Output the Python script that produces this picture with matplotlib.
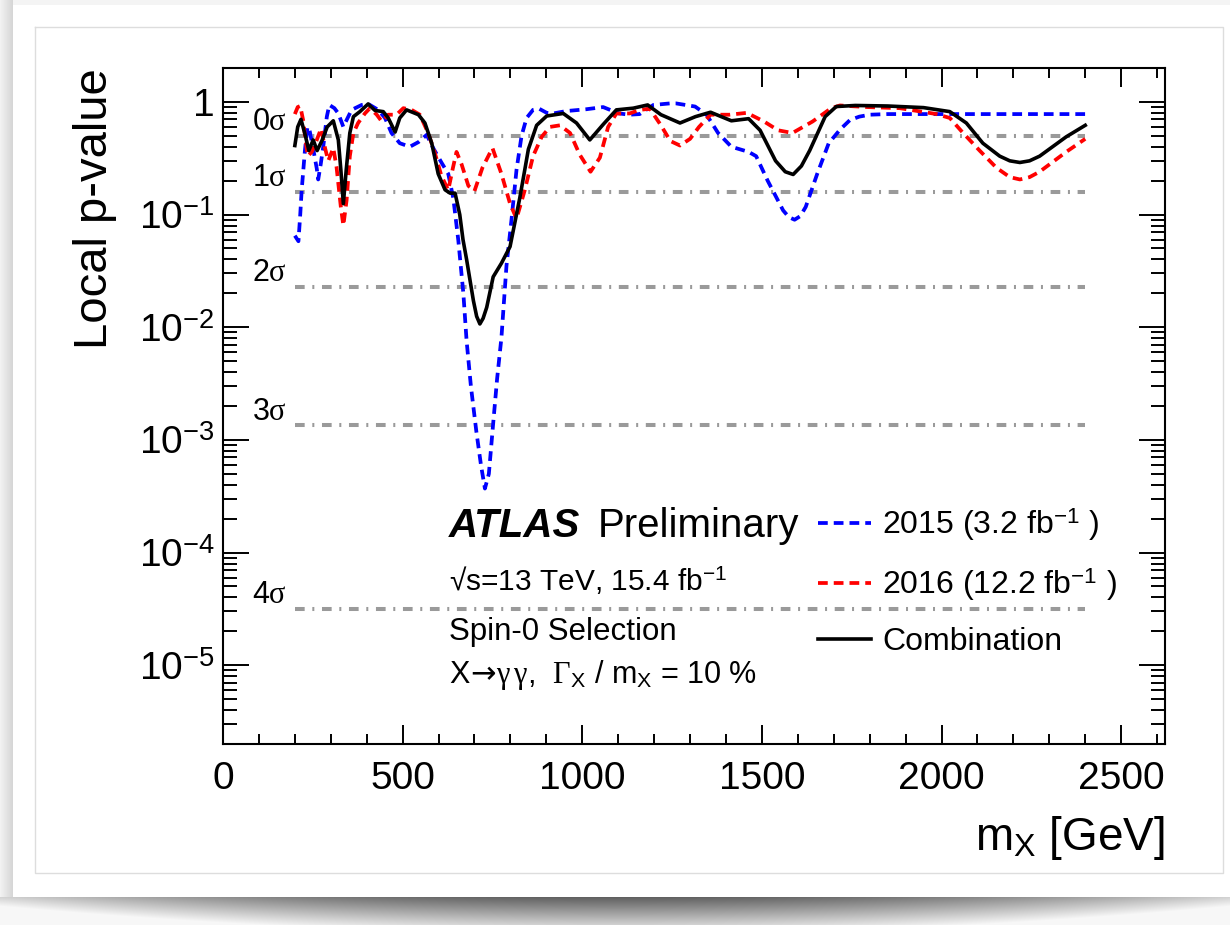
import numpy as np
import matplotlib
matplotlib.use("Agg")
import matplotlib.pyplot as plt
from matplotlib.ticker import FixedLocator, FixedFormatter, LogLocator, NullFormatter, MultipleLocator

plt.rcParams['font.family'] = ['Liberation Sans', 'DejaVu Sans']
plt.rcParams['mathtext.fontset'] = 'custom'
plt.rcParams['mathtext.rm'] = 'Liberation Sans'
plt.rcParams['mathtext.it'] = 'Liberation Serif'
plt.rcParams['mathtext.sf'] = 'Liberation Serif'
plt.rcParams['mathtext.bf'] = 'DejaVu Sans'

# local p-value scans vs. resonance mass [GeV]
mass_2015 = [200, 210, 215, 219, 228, 235, 240, 250, 261, 265, 272, 279, 289, 296, 310,
             321, 335, 344, 358, 386, 404, 432, 451, 469, 492, 520, 544, 567, 585, 608,
             627, 641, 655, 669, 678, 690, 705, 718, 729, 740, 752, 763, 775, 789, 803,
             817, 831, 845, 863, 880, 901, 919, 956, 1010, 1058, 1102, 1132, 1160, 1198,
             1244, 1261, 1314, 1346, 1378, 1415, 1463, 1484, 1516, 1559, 1575, 1591, 1607,
             1622, 1654, 1686, 1718, 1745, 1771, 1800, 1850, 2000, 2200, 2400]
pval_2015 = [0.065, 0.058, 0.10, 0.165, 0.37, 0.60, 0.58, 0.40, 0.256, 0.205, 0.28, 0.40,
             0.74, 0.94, 0.88, 0.79, 0.60, 0.69, 0.85, 0.94, 0.96, 0.85, 0.72, 0.53, 0.43,
             0.40, 0.44, 0.51, 0.39, 0.29, 0.23, 0.14, 0.059, 0.020, 0.0076, 0.003, 0.0012,
             0.0006, 0.00037, 0.0005, 0.0014, 0.0035, 0.0081, 0.035, 0.09, 0.25, 0.50, 0.72,
             0.85, 0.87, 0.80, 0.79, 0.83, 0.86, 0.90, 0.79, 0.77, 0.78, 0.94, 0.97, 0.97,
             0.91, 0.77, 0.53, 0.40, 0.36, 0.33, 0.20, 0.109, 0.095, 0.090, 0.097, 0.117,
             0.23, 0.43, 0.57, 0.69, 0.74, 0.77, 0.78, 0.78, 0.78, 0.78]

mass_2016 = [200, 208, 215, 223, 230, 236, 247, 261, 273, 284, 293, 307, 316, 328, 335,
             344, 353, 363, 376, 395, 409, 428, 442, 460, 483, 502, 525, 548, 571, 590,
             608, 627, 640, 650, 664, 683, 700, 722, 750, 775, 799, 817, 840, 863, 887,
             910, 938, 966, 993, 1023, 1049, 1072, 1095, 1132, 1160, 1188, 1219, 1245,
             1272, 1300, 1325, 1357, 1410, 1458, 1506, 1545, 1585, 1641, 1693, 1717, 1793,
             1884, 1986, 2023, 2060, 2106, 2153, 2190, 2218, 2245, 2273, 2347, 2400]
pval_2016 = [0.78, 0.90, 0.92, 0.69, 0.45, 0.33, 0.36, 0.46, 0.58, 0.39, 0.30, 0.39, 0.265,
             0.117, 0.080, 0.134, 0.33, 0.53, 0.65, 0.79, 0.88, 0.77, 0.67, 0.77, 0.77, 0.88,
             0.85, 0.77, 0.53, 0.35, 0.22, 0.165, 0.26, 0.36, 0.28, 0.18, 0.162, 0.26, 0.39,
             0.23, 0.125, 0.092, 0.165, 0.33, 0.49, 0.60, 0.62, 0.53, 0.34, 0.24, 0.32, 0.60,
             0.79, 0.79, 0.85, 0.87, 0.62, 0.45, 0.41, 0.47, 0.60, 0.77, 0.77, 0.80, 0.67,
             0.56, 0.53, 0.67, 0.88, 0.93, 0.90, 0.88, 0.78, 0.72, 0.53, 0.37, 0.26, 0.215,
             0.205, 0.215, 0.24, 0.36, 0.47]

mass_comb = [200, 208, 217, 228, 239, 251, 262, 275, 290, 307, 321, 328, 335, 343, 353,
             363, 381, 404, 423, 446, 460, 479, 492, 511, 544, 562, 581, 599, 618, 632,
             646, 659, 668, 678, 697, 706, 715, 724, 734, 752, 775, 799, 826, 840, 850, 873,
             901, 947, 984, 1021, 1058, 1095, 1142, 1182, 1219, 1272, 1315, 1357, 1415, 1463,
             1495, 1538, 1565, 1587, 1610, 1633, 1676, 1707, 1760, 1850, 1950, 2023, 2069,
             2115, 2162, 2190, 2218, 2245, 2273, 2347, 2400]
pval_comb = [0.41, 0.60, 0.70, 0.52, 0.37, 0.46, 0.37, 0.45, 0.60, 0.68, 0.46, 0.25, 0.125,
             0.25, 0.53, 0.74, 0.82, 0.96, 0.84, 0.82, 0.72, 0.54, 0.72, 0.85, 0.77, 0.65,
             0.43, 0.23, 0.166, 0.155, 0.155, 0.10, 0.06, 0.040, 0.0172, 0.0125, 0.0107,
             0.012, 0.015, 0.028, 0.037, 0.052, 0.14, 0.25, 0.38, 0.62, 0.75, 0.79, 0.65,
             0.46, 0.63, 0.85, 0.88, 0.94, 0.77, 0.65, 0.74, 0.81, 0.68, 0.71, 0.56, 0.30,
             0.24, 0.227, 0.27, 0.37, 0.74, 0.91, 0.93, 0.92, 0.89, 0.82, 0.65, 0.43, 0.33,
             0.30, 0.29, 0.30, 0.33, 0.49, 0.62]

# significance reference lines
sigma_labels = ['0$\\sigma$', '1$\\sigma$', '2$\\sigma$', '3$\\sigma$', '4$\\sigma$']
sigma_pvals = [0.5, 0.1587, 0.02275, 0.00135, 3.17e-5]
sigma_range = [200, 2400]

ytick_vals = [1e-5, 1e-4, 1e-3, 1e-2, 1e-1, 1]
ytick_labels = ['10$^{-5}$', '10$^{-4}$', '10$^{-3}$', '10$^{-2}$', '10$^{-1}$', '1']

W, H = 1230, 925
fig = plt.figure(figsize=(W / 100, H / 100), dpi=100)

# card background with soft shadow
bg = np.ones((H, W, 3))
yy, xx = np.mgrid[0:H, 0:W]
left = xx < 13
bg[left] = (0.95 - 0.12 * (xx[left] / 13.0))[:, None]
top = (yy < 5) & ~left
bg[top] = 0.96
band = yy >= 897
t = (yy[band] - 897) / 28.0
edge = np.abs((xx[band] - 615) / 615.0) ** 2
shade = np.clip(0.38 + 0.45 * t + 0.45 * edge, 0, 0.97)
bg[band] = shade[:, None]
bax = fig.add_axes([0, 0, 1, 1], zorder=-10)
bax.imshow(bg, aspect='auto', extent=(0, W, H, 0), interpolation='nearest')
bax.plot([35, 1223, 1223, 35, 35], [27, 27, 873, 873, 27], color='#dddddd', lw=1)
bax.set_xlim(0, W)
bax.set_ylim(H, 0)
bax.axis('off')

ax = fig.add_axes([223 / W, 1 - 744 / H, 942 / W, 676 / H])
ax.set_facecolor('none')

for p in sigma_pvals:
    ax.plot(sigma_range, [p, p], color='#9a9a9a', lw=2.9,
            linestyle=(0, (2.4, 1.9, 0.5, 1.9)), zorder=1)
for lab, p in zip(sigma_labels, sigma_pvals):
    ax.annotate(lab, (80, p), xytext=(0, 4), textcoords='offset points',
                fontsize=22, ha='left', va='baseline')

ln15, = ax.plot(mass_2015, pval_2015, color='#0000ff', lw=2.7,
                linestyle=(0, (2.6, 1.6)), zorder=3)
ln16, = ax.plot(mass_2016, pval_2016, color='#ff0000', lw=2.7,
                linestyle=(0, (2.6, 1.6)), zorder=3)
lncb, = ax.plot(mass_comb, pval_comb, color='black', lw=2.6, zorder=4)

ax.set_yscale('log')
ax.set_xlim(0, 2622)
ax.set_ylim(2e-6, 2)

ax.xaxis.set_major_locator(MultipleLocator(500))
ax.xaxis.set_minor_locator(MultipleLocator(100))
ax.yaxis.set_major_locator(FixedLocator(ytick_vals))
ax.yaxis.set_major_formatter(FixedFormatter(ytick_labels))
ax.yaxis.set_minor_locator(LogLocator(base=10, subs=np.arange(2, 10), numticks=20))
ax.yaxis.set_minor_formatter(NullFormatter())

ax.tick_params(which='both', direction='in', top=True, right=True, width=1.4)
ax.tick_params(axis='x', which='major', length=14, labelsize=28, pad=12)
ax.tick_params(axis='x', which='minor', length=7)
ax.tick_params(axis='y', which='major', length=19, labelsize=28, pad=6)
ax.tick_params(axis='y', which='minor', length=10)
for s in ax.spines.values():
    s.set_linewidth(1.5)

ax.set_ylabel('Local p-value', fontsize=34, loc='top')
ax.yaxis.set_label_coords(-0.112, 1.0)
ax.set_xlabel('m$_{\\mathregular{X}}$ [GeV]', fontsize=33, loc='right')
ax.xaxis.set_label_coords(1.0, -0.103)

ax.text(0.240, 0.306, 'ATLAS', transform=ax.transAxes, fontsize=29,
        fontweight='bold', fontstyle='italic')
ax.text(0.398, 0.306, 'Preliminary', transform=ax.transAxes, fontsize=29)
ax.text(0.240, 0.228, '\u221as=13 TeV, 15.4 fb$^{-1}$', transform=ax.transAxes, fontsize=21.5)
ax.text(0.240, 0.154, 'Spin-0 Selection', transform=ax.transAxes, fontsize=22.5)
ax.text(0.240, 0.090,
        'X$\\!\\mathbf{\\rightarrow}\\!\\gamma\\,\\gamma$,  '
        '$\\mathsf{\\Gamma}_{\\mathregular{X}}$ / m$_{\\mathregular{X}}$ = 10 %',
        transform=ax.transAxes, fontsize=22)

ax.legend([ln15, ln16, lncb],
          ['2015 (3.2 fb$^{-1}$ )', '2016 (12.2 fb$^{-1}$ )', 'Combination'],
          loc='upper left', bbox_to_anchor=(0.632, 0.352), frameon=False,
          fontsize=23, handlelength=1.66, handletextpad=0.34, labelspacing=0.74,
          borderpad=0, borderaxespad=0)

fig.savefig('out.png', dpi=100)
